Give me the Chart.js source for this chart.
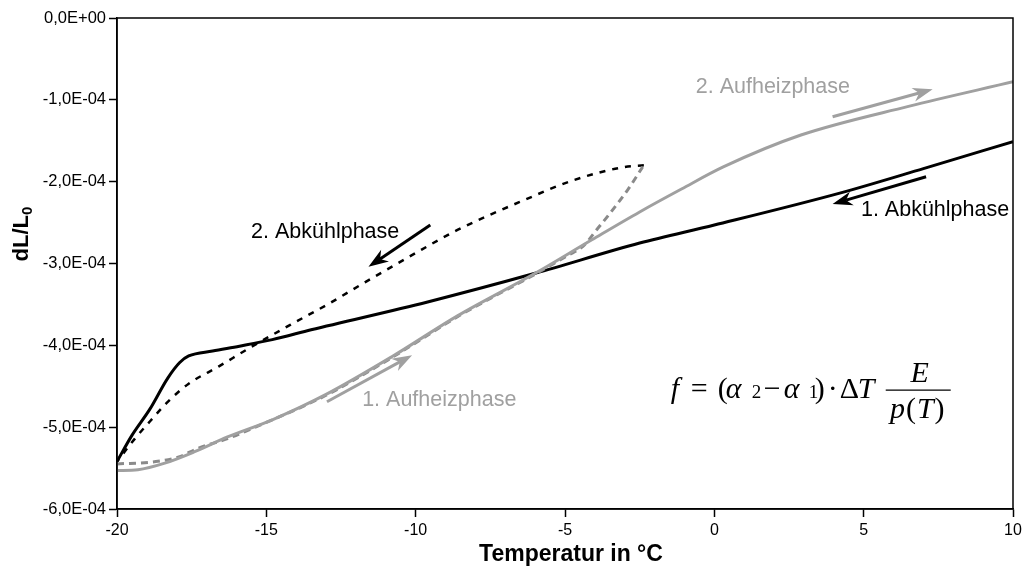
<!DOCTYPE html>
<html>
<head>
<meta charset="utf-8">
<script src="https://cdn.jsdelivr.net/npm/chart.js@4/dist/chart.umd.min.js"></script>
<style>
  html, body { margin: 0; padding: 0; background: #fff; }
  #wrap { width: 1022px; height: 571px; }
</style>
</head>
<body>
<div id="wrap"><canvas id="c" width="1022" height="571"></canvas></div>
<script>
// ---- Data ----
const xTicks = [-20, -15, -10, -5, 0, 5, 10];
const yTicks = [0, -1e-4, -2e-4, -3e-4, -4e-4, -5e-4, -6e-4];

// 1. Abkühlphase (black solid), cooling from 10 °C
const cool1T = [10, 7, 4.2, 0, -2.5, -6, -9.6, -13.5, -14.8, -15.9, -16.8, -17.6, -17.9, -18.3, -18.9, -19.5, -20];
const cool1V = [-1.51e-4, -1.84e-4, -2.14e-4, -2.53e-4, -2.75e-4, -3.12e-4, -3.47e-4, -3.81e-4, -3.93e-4, -4.01e-4, -4.07e-4, -4.13e-4, -4.21e-4, -4.40e-4, -4.78e-4, -5.10e-4, -5.42e-4];

// Aufheizphase (grey solid), heating from -20 °C to 10 °C
const heatT = [-20, -19.3, -18.4, -17.4, -16.3, -14.8, -13, -10.8, -8.6, -6, -4.1, -2.5, -1.1, 0.3, 2.9, 6.5, 10];
const heatV = [-5.53e-4, -5.52e-4, -5.44e-4, -5.30e-4, -5.12e-4, -4.91e-4, -4.60e-4, -4.14e-4, -3.64e-4, -3.12e-4, -2.71e-4, -2.37e-4, -2.09e-4, -1.82e-4, -1.43e-4, -1.08e-4, -0.78e-4];

// 1. Aufheizphase (grey dashed), heating from -20 °C to -2.4 °C
const heatDashT = [-20, -18.7, -17.9, -17.3, -16.3, -15.5, -13, -10.8, -8.6, -6, -4.9, -4.4, -3.9, -3.5, -2.9, -2.4];
const heatDashV = [-5.45e-4, -5.42e-4, -5.36e-4, -5.26e-4, -5.14e-4, -5.02e-4, -4.61e-4, -4.15e-4, -3.65e-4, -3.13e-4, -2.90e-4, -2.79e-4, -2.57e-4, -2.39e-4, -2.10e-4, -1.82e-4];

// 2. Abkühlphase (black dashed), cooling from -2.4 °C to -20 °C
const cool2T = [-2.36, -3.0, -4.7, -6.4, -8.6, -9.8, -10.7, -11.7, -12.9, -14.2, -15.6, -16.6, -17.6, -18.3, -18.8, -19.4, -20];
const cool2V = [-1.80e-4, -1.82e-4, -1.98e-4, -2.23e-4, -2.59e-4, -2.83e-4, -3.02e-4, -3.23e-4, -3.49e-4, -3.75e-4, -4.04e-4, -4.26e-4, -4.47e-4, -4.69e-4, -4.89e-4, -5.14e-4, -5.42e-4];

// ---- Styling / annotations ----
const GREY = '#a0a0a0';
const GREY_DASH = '#8a8a8a';
const BLACK = '#000000';

const labels = [
  { text: '2. Aufheizphase', x: 1.96, y: -0.84e-4, color: GREY },
  { text: '1. Abkühlphase', x: 7.39, y: -2.35e-4, color: BLACK },
  { text: '2. Abkühlphase', x: -13.03, y: -2.61e-4, color: BLACK },
  { text: '1. Aufheizphase', x: -9.21, y: -4.67e-4, color: GREY }
];
const arrows = [
  { from: [3.96, -1.207e-4], to: [7.31, -0.872e-4], color: GREY },
  { from: [7.09, -1.94e-4], to: [3.96, -2.274e-4], color: BLACK },
  { from: [-9.51, -2.53e-4], to: [-11.58, -3.04e-4], color: BLACK },
  { from: [-12.97, -4.69e-4], to: [-10.12, -4.12e-4], color: GREY }
];
const formulaAnchor = { x: -1.46, y: -4.645e-4 }; // baseline-left of "f"

function toXY(a, b) { return a.map((v, i) => ({ x: v, y: b[i] })); }

function fmtY(v) {
  if (Math.abs(v) < 1e-12) return '0,0E+00';
  const s = v.toExponential(1).split('e');
  const m = s[0].replace('.', ',');
  let e = parseInt(s[1], 10);
  const sign = e < 0 ? '-' : '+';
  e = Math.abs(e);
  return m + 'E' + sign + (e < 10 ? '0' + e : '' + e);
}

const FONT = '"Liberation Sans", Arial, sans-serif';
const SERIF = '"Liberation Serif", "Times New Roman", serif';

function drawArrow(ctx, x1, y1, x2, y2, color) {
  const ang = Math.atan2(y2 - y1, x2 - x1);
  const L = 20, W = 7, back = 6;
  ctx.save();
  ctx.strokeStyle = color; ctx.fillStyle = color;
  ctx.lineWidth = 3; ctx.lineCap = 'butt';
  ctx.beginPath();
  ctx.moveTo(x1, y1);
  ctx.lineTo(x2 - Math.cos(ang) * (L - back), y2 - Math.sin(ang) * (L - back));
  ctx.stroke();
  ctx.translate(x2, y2); ctx.rotate(ang);
  ctx.beginPath();
  ctx.moveTo(0, 0);
  ctx.lineTo(-L, -W);
  ctx.lineTo(-L + back, 0);
  ctx.lineTo(-L, W);
  ctx.closePath();
  ctx.fill();
  ctx.restore();
}

const decor = {
  id: 'decor',
  afterDraw(chart) {
    const ctx = chart.ctx;
    const ca = chart.chartArea;
    const xs = chart.scales.x, ys = chart.scales.y;
    // frame
    ctx.save();
    ctx.strokeStyle = '#000'; ctx.lineWidth = 1.5;
    ctx.strokeRect(ca.left, ca.top, ca.right - ca.left, ca.bottom - ca.top);
    ctx.restore();

    // labels
    ctx.save();
    ctx.font = '21.5px ' + FONT;
    ctx.textAlign = 'center'; ctx.textBaseline = 'middle';
    labels.forEach(l => {
      ctx.fillStyle = l.color;
      ctx.fillText(l.text, xs.getPixelForValue(l.x), ys.getPixelForValue(l.y));
    });
    ctx.restore();

    arrows.forEach(a => drawArrow(ctx,
      xs.getPixelForValue(a.from[0]), ys.getPixelForValue(a.from[1]),
      xs.getPixelForValue(a.to[0]), ys.getPixelForValue(a.to[1]), a.color));

    // formula
    const fx = xs.getPixelForValue(formulaAnchor.x);
    const fy = ys.getPixelForValue(formulaAnchor.y);
    ctx.save();
    ctx.fillStyle = '#000';
    ctx.textBaseline = 'alphabetic'; ctx.textAlign = 'left';
    const I = 'italic 30px ' + SERIF, R = '30px ' + SERIF, S = '19px ' + SERIF;
    const parts = [
      ['f', I, 0, 0], ['=', R, 20, 0], ['(', R, 47, 0], ['α', I, 55, 0], ['2', S, 81, 0],
      ['−', R, 93, 0], ['α', I, 113, 0], ['1', S, 138, 0], [')', R, 144, 0], ['·', R, 157, 0],
      ['Δ', R, 169, 0], ['T', I, 187, 0]
    ];
    parts.forEach(p => { ctx.font = p[1]; ctx.fillText(p[0], fx + p[2], fy + p[3]); });
    // fraction
    ctx.strokeStyle = '#000'; ctx.lineWidth = 1.3;
    ctx.beginPath(); ctx.moveTo(fx + 215, fy - 8); ctx.lineTo(fx + 280, fy - 8); ctx.stroke();
    ctx.textAlign = 'center';
    ctx.font = I; ctx.fillText('E', fx + 249, fy - 16);
    const den = [['p', I], ['(', R], ['T', I], [')', R]];
    let w = 0; den.forEach(d => { ctx.font = d[1]; w += ctx.measureText(d[0]).width + 1; });
    let cx = fx + 247 - w / 2;
    ctx.textAlign = 'left';
    den.forEach(d => { ctx.font = d[1]; ctx.fillText(d[0], cx, fy + 20); cx += ctx.measureText(d[0]).width + 1; });
    ctx.restore();

    // axis titles
    ctx.save();
    ctx.fillStyle = '#000';
    ctx.font = 'bold 23px ' + FONT;
    ctx.textAlign = 'center'; ctx.textBaseline = 'middle';
    ctx.fillText('Temperatur in °C', (ca.left + ca.right) / 2 + 6, 555);
    ctx.translate(22, 234);
    ctx.rotate(-Math.PI / 2);
    ctx.font = 'bold 22px ' + FONT;
    const main = 'dL/L';
    const mw = ctx.measureText(main).width;
    ctx.font = 'bold 15px ' + FONT;
    const sw = ctx.measureText('0').width;
    const tot = mw + sw;
    ctx.textAlign = 'left';
    ctx.font = 'bold 22px ' + FONT;
    ctx.fillText(main, -tot / 2, 0);
    ctx.font = 'bold 15px ' + FONT;
    ctx.fillText('0', -tot / 2 + mw, 6);
    ctx.restore();
  }
};

const lineCommon = { showLine: true, pointRadius: 0, cubicInterpolationMode: 'monotone' };

new Chart(document.getElementById('c'), {
  type: 'scatter',
  data: {
    datasets: [
      Object.assign({ label: 'Aufheizphase', data: toXY(heatT, heatV), borderColor: GREY, borderWidth: 3 }, lineCommon),
      Object.assign({ label: '1. Aufheizphase', data: toXY(heatDashT, heatDashV), borderColor: GREY_DASH, borderWidth: 3, borderDash: [7, 5] }, lineCommon),
      Object.assign({ label: '2. Abkühlphase', data: toXY(cool2T, cool2V), borderColor: BLACK, borderWidth: 2.5, borderDash: [6, 7] }, lineCommon),
      Object.assign({ label: '1. Abkühlphase', data: toXY(cool1T, cool1V), borderColor: BLACK, borderWidth: 3 }, lineCommon)
    ]
  },
  options: {
    responsive: false,
    animation: false,
    devicePixelRatio: 1,
    layout: { padding: { top: 18, right: 0, left: 0, bottom: 0 } },
    plugins: { legend: { display: false }, tooltip: { enabled: false } },
    scales: {
      x: {
        type: 'linear', min: -20, max: 10,
        afterBuildTicks: s => { s.ticks = xTicks.map(v => ({ value: v })); },
        afterFit: s => { s.height = 62; s.paddingRight = 9; s.paddingLeft = 0; },
        ticks: { color: '#000', font: { family: FONT, size: 16 }, padding: 4, maxRotation: 0 },
        grid: { display: true, drawOnChartArea: false, drawTicks: true, tickLength: 8, tickColor: '#000', tickWidth: 1.5 },
        border: { display: true, color: '#000', width: 1.5 }
      },
      y: {
        type: 'linear', min: -6e-4, max: 0,
        afterBuildTicks: s => { s.ticks = yTicks.map(v => ({ value: v })); },
        afterFit: s => { s.width = 117; s.paddingTop = 0; s.paddingBottom = 0; },
        ticks: { color: '#000', font: { family: FONT, size: 16.5 }, padding: 3, callback: v => fmtY(v) },
        grid: { display: true, drawOnChartArea: false, drawTicks: true, tickLength: 8, tickColor: '#000', tickWidth: 1.5 },
        border: { display: true, color: '#000', width: 1.5 }
      }
    }
  },
  plugins: [decor]
});
</script>
</body>
</html>
